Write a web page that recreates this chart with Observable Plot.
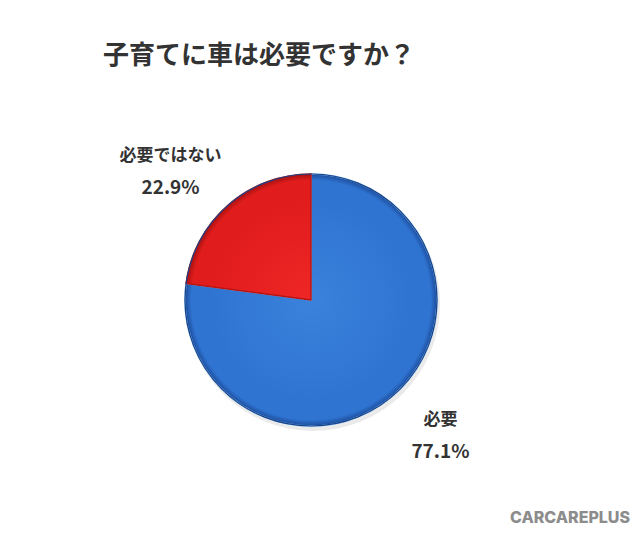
<!DOCTYPE html>
<html>
<head>
<meta charset="utf-8">
<script src="https://cdn.jsdelivr.net/npm/d3@7"></script>
<script src="https://cdn.jsdelivr.net/npm/@observablehq/plot@0.6"></script>
<style>
  html, body { margin: 0; padding: 0; background: #fff; }
  #wrap { position: relative; width: 640px; height: 539px; overflow: hidden; font-family: "Noto Sans CJK JP", "Noto Sans", sans-serif; }
  #title { box-sizing: border-box; height: 90px; padding: 39px 0 0 103px; font-size: 26px; line-height: 28px; font-weight: bold; color: #333; }
  #mark { position: absolute; left: 510px; top: 507px; font-family: Inter, "Noto Sans", sans-serif; font-weight: 800; font-size: 16px; color: #8c8c8c; letter-spacing: 0px; }
</style>
</head>
<body>
<div id="wrap">
  <div id="title">子育てに車は必要ですか？</div>
  <div id="chart"></div>
  <div id="mark">CARCAREPLUS</div>
</div>
<script>
const categories = ["必要", "必要ではない"];
const values = [77.1, 22.9];
const valueLabels = ["77.1%", "22.9%"];
const colors = ["#2f74d1", "#e11c1c"];
const rimColors = ["#1c4c9c", "#a61212"];
const lightColors = ["#3a82dc", "#ee2626"];

const data = categories.map((c, i) => ({category: c, value: values[i], label: valueLabels[i], color: colors[i], rim: rimColors[i], light: lightColors[i]}));
const arcs = d3.pie().sort(null).value(d => d.value)(data);
const labelData = arcs.map(a => {
  const mid = (a.startAngle + a.endAngle) / 2;
  const s = Math.sin(mid), c = Math.cos(mid);
  return {
    x: 1.393 * s + 0.153 * Math.sign(s),
    y: 1.393 * c,
    category: a.data.category,
    label: a.data.label
  };
});

const R = 126, cx = 311, cy = 210, W = 640, H = 449;

function pieMark(index, scales, values, dimensions, context) {
  const x0 = scales.x(0), y0 = scales.y(0);
  const r = scales.x(1) - x0;
  const g = d3.create("svg:g");
  const defs = g.append("defs");
  arcs.forEach((a, i) => {
    const grad = defs.append("radialGradient")
      .attr("id", "pieGrad" + i)
      .attr("gradientUnits", "userSpaceOnUse")
      .attr("cx", 0).attr("cy", 0).attr("r", r);
    grad.append("stop").attr("offset", "0%").attr("stop-color", a.data.light);
    grad.append("stop").attr("offset", "80%").attr("stop-color", a.data.color);
    grad.append("stop").attr("offset", "95%").attr("stop-color", a.data.color);
    grad.append("stop").attr("offset", "100%").attr("stop-color", a.data.rim);
  });
  g.append("circle").attr("cx", x0 + 2).attr("cy", y0 + 4).attr("r", r + 1)
    .attr("fill", "#dcdcdc").attr("opacity", 0.6);
  const arc = d3.arc().innerRadius(0).outerRadius(r);
  g.selectAll("path.slice").data(arcs).join("path")
    .attr("class", "slice")
    .attr("transform", `translate(${x0},${y0})`)
    .attr("d", arc)
    .attr("fill", (d, i) => `url(#pieGrad${i})`)
    .attr("stroke", (d, i) => i === 0 ? "#86c2f7" : "#b81414")
    .attr("stroke-width", 1.5)
    .attr("stroke-linejoin", "round");
  g.append("circle").attr("cx", x0).attr("cy", y0).attr("r", r)
    .attr("fill", "none").attr("stroke", "#174289").attr("stroke-width", 1.2);
  return g.node();
}

const plot = Plot.plot({
  width: W,
  height: H,
  margin: 0,
  x: {domain: [-1, 1], range: [cx - R, cx + R], axis: null},
  y: {domain: [-1, 1], range: [cy + R, cy - R], axis: null},
  style: {fontFamily: '"Noto Sans CJK JP", sans-serif', background: "#fff"},
  marks: [
    pieMark,
    Plot.text(labelData, {
      x: "x", y: "y", text: "category",
      fontSize: 17, fontWeight: "bold", fill: "#333",
      textAnchor: "middle", dx: -6, dy: 3 - 16
    }),
    Plot.text(labelData, {
      x: "x", y: "y", text: "label",
      fontSize: 19, fontWeight: "bold", fill: "#333",
      textAnchor: "middle", dx: -6, dy: 3 + 16
    })
  ]
});
document.getElementById("chart").appendChild(plot);
</script>
</body>
</html>
